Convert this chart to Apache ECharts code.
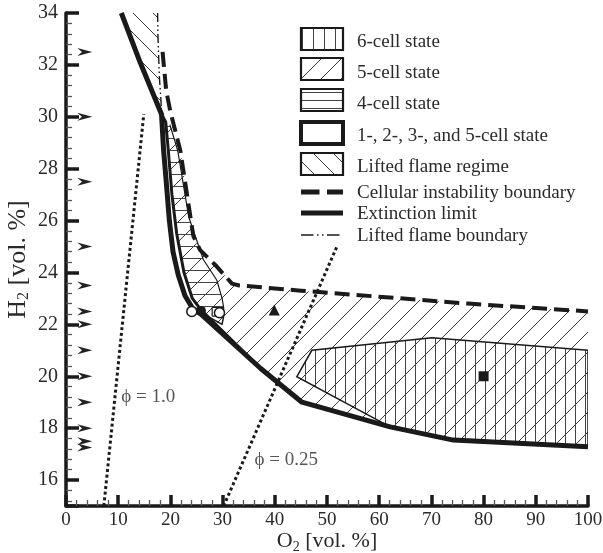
<!DOCTYPE html>
<html>
<head>
<meta charset="utf-8">
<script src="https://cdn.jsdelivr.net/npm/echarts@6/dist/echarts.min.js"></script>
<style>
  html, body { margin: 0; padding: 0; background: #ffffff; }
  #chart { width: 603px; height: 553px; }
</style>
</head>
<body>
<div id="chart"></div>
<script>
// ---- Flame regime map: H2 vs O2 (vol. %) ----

// Boundary curves, [O2, H2]
const extinctionLimit = [[10.6,34.0],[14.2,32.1],[18.3,30.1],[18.7,28.7],[19.2,27.5],[19.8,26.0],[20.5,24.8],[21.5,23.9],[22.8,23.1],[24.3,22.6],[25.8,22.4],[37.3,20.3],[45.2,19.0],[62.1,18.05],[74.2,17.54],[100,17.28]];
const cellularBoundary = [[18.5,32.5],[19.2,31.0],[20.0,30.2],[21.9,28.7],[24.4,25.4],[25.7,24.86],[28.6,24.29],[31.8,23.57],[33.2,23.5],[45,23.3],[77,22.8],[100,22.5]];
const liftedBoundary = [[17.55,34],[17.6,33.2],[17.7,32.6],[17.9,31.5],[18.2,30.6],[18.3,30.1]];
const multiCellBoundary = [[18.3,30.1],[19.1,29.8],[19.6,28.7],[20.3,27.0],[21.2,25.5],[22.6,24.0],[24.2,23.0],[25.9,22.55],[37.3,20.3]];
const fourCellEdge = [[19.9,29.7],[21.4,28.7],[23.5,26.15],[26.3,24.5],[28.9,23.7],[29.9,23.0],[30.2,22.65]];
const fourCellBox = [[28.0,22.32],[30.2,22.32],[30.2,22.65],[28.0,22.65],[28.0,22.32]];
const transitionEdge = [[25.9,22.45],[29.9,22.0],[30.2,22.32]];

// Regime regions (closed polygons), [O2, H2]
const liftedRegion = [[10.6,34],[17.55,34],[17.6,33.2],[17.7,32.6],[17.9,31.5],[18.2,30.6],[18.3,30.1],[14.2,32.1]];
const fiveCellRegion = [[19.1,29.8],[20.5,29.8],[21.9,28.7],[24.4,25.4],[25.7,24.86],[28.6,24.29],[31.8,23.57],[33.2,23.5],[45,23.3],[77,22.8],[100,22.5],[100,17.28],[74.2,17.54],[62.1,18.05],[45.2,19.0],[37.3,20.3],[25.9,22.55],[24.2,23.0],[22.6,24.0],[21.2,25.5],[20.3,27.0],[19.6,28.7]];
const fourCellRegion = [[19.1,29.8],[19.9,29.7],[21.4,28.7],[23.5,26.15],[26.3,24.5],[28.9,23.7],[29.9,23.0],[30.2,22.65],[30.2,22.32],[28.0,22.32],[25.9,22.55],[24.2,23.0],[22.6,24.0],[21.2,25.5],[20.3,27.0],[19.6,28.7]];
const sixCellRegion = [[44.2,19.98],[47.1,21.0],[70.1,21.48],[100,21.0],[100,17.28],[74.2,17.54],[62.1,18.05]];

// Equivalence-ratio lines
const phiStoich = [[7.25,15],[14.9,30.1]];
const phiLean = [[30.2,15],[51.9,25.0]];
const phiLabels = [{ text: 'ϕ = 1.0', at: [10.6, 19.2] }, { text: 'ϕ = 0.25', at: [36.1, 16.77] }];

// Observed conditions
const openCircles = [[24.1,22.5],[29.4,22.45]];
const filledCircles = [[25.85,22.52]];
const triangles = [[39.9,22.55]];
const squares = [[80,20]];

// Inlet H2 levels marked along the left axis
const arrowLevels = [32.5,30,27.5,25,23.5,22.5,22,21,20,19,18,17.5,17.25];
const arrowO2 = 3.6;

// Legend entries
const legendRegions = ['6-cell state', '5-cell state', '4-cell state', '1-, 2-, 3-, and 5-cell state', 'Lifted flame regime'];
const legendLines = ['Cellular instability boundary', 'Extinction limit', 'Lifted flame boundary'];

const SERIF = '"Liberation Serif", "DejaVu Serif", serif';
const INK = '#1a1a1a';
const HATCH = '#3a3a3a';

// Hatch tile builder
function hatch(kind, step, color, width) {
  const c = document.createElement('canvas');
  c.width = step; c.height = step;
  const g = c.getContext('2d');
  g.strokeStyle = color; g.lineWidth = width;
  g.beginPath();
  if (kind === 'vertical') {
    g.moveTo(Math.floor(step / 2) + 0.5, 0); g.lineTo(Math.floor(step / 2) + 0.5, step);
  } else if (kind === 'horizontal') {
    g.moveTo(0, Math.floor(step / 2) + 0.5); g.lineTo(step, Math.floor(step / 2) + 0.5);
  } else if (kind === 'forward') {
    g.moveTo(-1, step + 1); g.lineTo(step + 1, -1);
    g.moveTo(-step, step + 1); g.lineTo(1, -1);
    g.moveTo(step - 1, step + 1); g.lineTo(2 * step + 1, -1);
  } else {
    g.moveTo(-1, -1); g.lineTo(step + 1, step + 1);
    g.moveTo(-step - 1, -1); g.lineTo(1, step + 1);
    g.moveTo(step - 1, -1); g.lineTo(2 * step + 1, step + 1);
  }
  g.stroke();
  return { image: c, repeat: 'repeat' };
}

const fillSix = hatch('vertical', 10, '#444', 1);
const fillFive = hatch('forward', 20, HATCH, 1);
const fillFour = hatch('horizontal', 12, '#444', 1);
const fillLifted = hatch('backward', 20, HATCH, 1);
const legendFour = hatch('horizontal', 8, '#444', 1);
const legendSix = hatch('vertical', 11, '#444', 1);

function regionSeries(name, poly, fill, stroke, lineWidth, z) {
  return {
    type: 'custom', name: name, coordinateSystem: 'cartesian2d', silent: true, z: z,
    clip: true, animation: false,
    data: [poly[0]],
    renderItem: function (params, api) {
      return {
        type: 'polygon',
        shape: { points: poly.map(function (p) { return api.coord(p); }) },
        style: { fill: fill, stroke: stroke || null, lineWidth: lineWidth || 0 }
      };
    }
  };
}

function lineSeries(name, data, width, type, z, color) {
  return {
    type: 'line', name: name, data: data, symbol: 'none', silent: true, z: z || 4,
    animation: false, clip: true,
    lineStyle: { color: color || INK, width: width, type: type || 'solid', cap: 'butt', join: 'round', opacity: 1 }
  };
}

function markerSeries(data, symbol, size, filled) {
  return {
    type: 'scatter', data: data, symbol: symbol, symbolSize: size, silent: true, z: 6, animation: false,
    itemStyle: filled ? { color: INK, opacity: 1 } : { color: '#ffffff', borderColor: INK, borderWidth: 1.5, opacity: 1 }
  };
}

// Legend drawn with graphic primitives
const legendX = 301, legendW = 42, textX = 357;
const boxTops = [28, 58, 89, 122, 153];
const boxFills = [legendSix, fillFive, legendFour, null, fillLifted];
const textY = [42, 73, 104, 136, 167, 193, 214, 236];
const lineY = [192, 213, 235];
const legendGraphics = [];
boxTops.forEach(function (t, i) {
  legendGraphics.push({
    type: 'rect', silent: true,
    shape: { x: legendX, y: t, width: legendW, height: 22 },
    style: { fill: boxFills[i] || '#ffffff', stroke: INK, lineWidth: i === 3 ? 4 : 2.2 }
  });
});
legendGraphics.push({ type: 'line', silent: true, shape: { x1: legendX, y1: lineY[0], x2: legendX + legendW, y2: lineY[0] },
  style: { stroke: INK, lineWidth: 5, lineDash: [18.5, 7.5], lineCap: 'butt' } });
legendGraphics.push({ type: 'line', silent: true, shape: { x1: legendX, y1: lineY[1], x2: legendX + legendW, y2: lineY[1] },
  style: { stroke: INK, lineWidth: 5, lineCap: 'butt' } });
legendGraphics.push({ type: 'line', silent: true, shape: { x1: legendX, y1: lineY[2], x2: legendX + legendW, y2: lineY[2] },
  style: { stroke: INK, lineWidth: 1.5, lineDash: [12.5, 3.5, 1.5, 3.5, 1.5, 3.5], lineCap: 'butt' } });
legendRegions.concat(legendLines).forEach(function (label, i) {
  legendGraphics.push({
    type: 'text', silent: true,
    style: { text: label, x: textX, y: textY[i], font: '19px ' + SERIF, fill: '#2a2a2a', verticalAlign: 'middle', align: 'left' }
  });
});

const chart = echarts.init(document.getElementById('chart'), null, { renderer: 'canvas' });
chart.setOption({
  backgroundColor: '#ffffff',
  animation: false,
  grid: { left: 66, right: 15, top: 13, bottom: 47, containLabel: false, outerBoundsMode: 'none' },
  xAxis: {
    type: 'value', min: 0, max: 100, interval: 10,
    axisLine: { show: true, onZero: false, lineStyle: { color: INK, width: 3.5 } },
    axisTick: { show: true, inside: true, length: 11, lineStyle: { color: INK, width: 3.5 } },
    minorTick: { show: true, splitNumber: 5, length: 6, lineStyle: { color: '#555', width: 1.3 } },
    splitLine: { show: false }, minorSplitLine: { show: false },
    axisLabel: { margin: 5, fontSize: 19, fontFamily: SERIF, color: '#2a2a2a' },
    name: '{m|O}{s|2}{m| [vol. %]}', nameLocation: 'middle', nameGap: 22, nameMoveOverlap: false,
    nameTextStyle: { color: '#2a2a2a', verticalAlign: 'top', rich: {
      m: { fontSize: 22, fontFamily: SERIF, color: '#2a2a2a', lineHeight: 26 },
      s: { fontSize: 14, fontFamily: SERIF, color: '#2a2a2a', verticalAlign: 'bottom', lineHeight: 14, padding: [12, 0, 0, 0] }
    } }
  },
  yAxis: {
    type: 'value', min: 15, max: 34, splitNumber: 10, minInterval: 2, maxInterval: 2,
    axisLine: { show: true, onZero: false, lineStyle: { color: INK, width: 3.5 } },
    axisTick: { show: true, inside: true, length: 13, lineStyle: { color: INK, width: 3.5 } },
    minorTick: { show: true, splitNumber: 5, length: 6, lineStyle: { color: '#555', width: 1.3 } },
    splitLine: { show: false }, minorSplitLine: { show: false },
    axisLabel: { margin: 8, fontSize: 20, fontFamily: SERIF, color: '#2a2a2a',
      formatter: function (v) { return v === 15 ? '' : String(v); } },
    name: '{m|H}{s|2}{m| [vol. %]}', nameLocation: 'middle', nameGap: 34, nameMoveOverlap: false,
    nameTextStyle: { color: '#2a2a2a', rich: {
      m: { fontSize: 26, fontFamily: SERIF, color: '#2a2a2a', lineHeight: 28 },
      s: { fontSize: 16, fontFamily: SERIF, color: '#2a2a2a', verticalAlign: 'bottom', lineHeight: 16, padding: [12, 0, 0, 0] }
    } }
  },
  graphic: legendGraphics,
  series: [
    regionSeries('Lifted flame regime', liftedRegion, fillLifted, null, 0, 1),
    regionSeries('5-cell state', fiveCellRegion, fillFive, null, 0, 1),
    regionSeries('6-cell state', sixCellRegion, fillSix, INK, 1.5, 2),
    regionSeries('4-cell state', fourCellRegion, fillFour, null, 0, 2),
    lineSeries('4-cell edge', fourCellEdge, 1.2, 'solid', 3),
    lineSeries('4-cell box', fourCellBox, 1.2, 'solid', 3),
    lineSeries('transition', transitionEdge, 1.5, 'solid', 3),
    lineSeries('phi 1.0', phiStoich, 3, [3, 2.7], 3),
    lineSeries('phi 0.25', phiLean, 3, [3, 2.7], 3),
    lineSeries('Lifted flame boundary', liftedBoundary, 1.4, [9, 3, 1.5, 3, 1.5, 3], 4),
    lineSeries('1-, 2-, 3-, and 5-cell state', multiCellBoundary, 3, 'solid', 4),
    lineSeries('Cellular instability boundary', cellularBoundary, 4, [15, 7], 5),
    lineSeries('Extinction limit', extinctionLimit, 5, 'solid', 5),
    markerSeries(openCircles, 'circle', 10, false),
    markerSeries(filledCircles, 'circle', 10, true),
    markerSeries(triangles, 'triangle', 11, true),
    markerSeries(squares, 'rect', 10, true),
    {
      type: 'scatter', silent: true, z: 6, animation: false,
      data: arrowLevels.map(function (h) { return [arrowO2, h]; }),
      symbol: 'path://M0,0L16,4L0,8L5,4Z', symbolSize: [15, 8],
      itemStyle: { color: '#222', opacity: 1 }
    },
    {
      type: 'scatter', silent: true, z: 6, animation: false,
      data: phiLabels.map(function (d) { return { value: d.at, name: d.text }; }),
      symbolSize: 0,
      label: { show: true, position: 'right', distance: 0, formatter: '{b}',
        fontSize: 19, fontFamily: SERIF, color: '#2a2a2a' }
    }
  ]
});
</script>
</body>
</html>
